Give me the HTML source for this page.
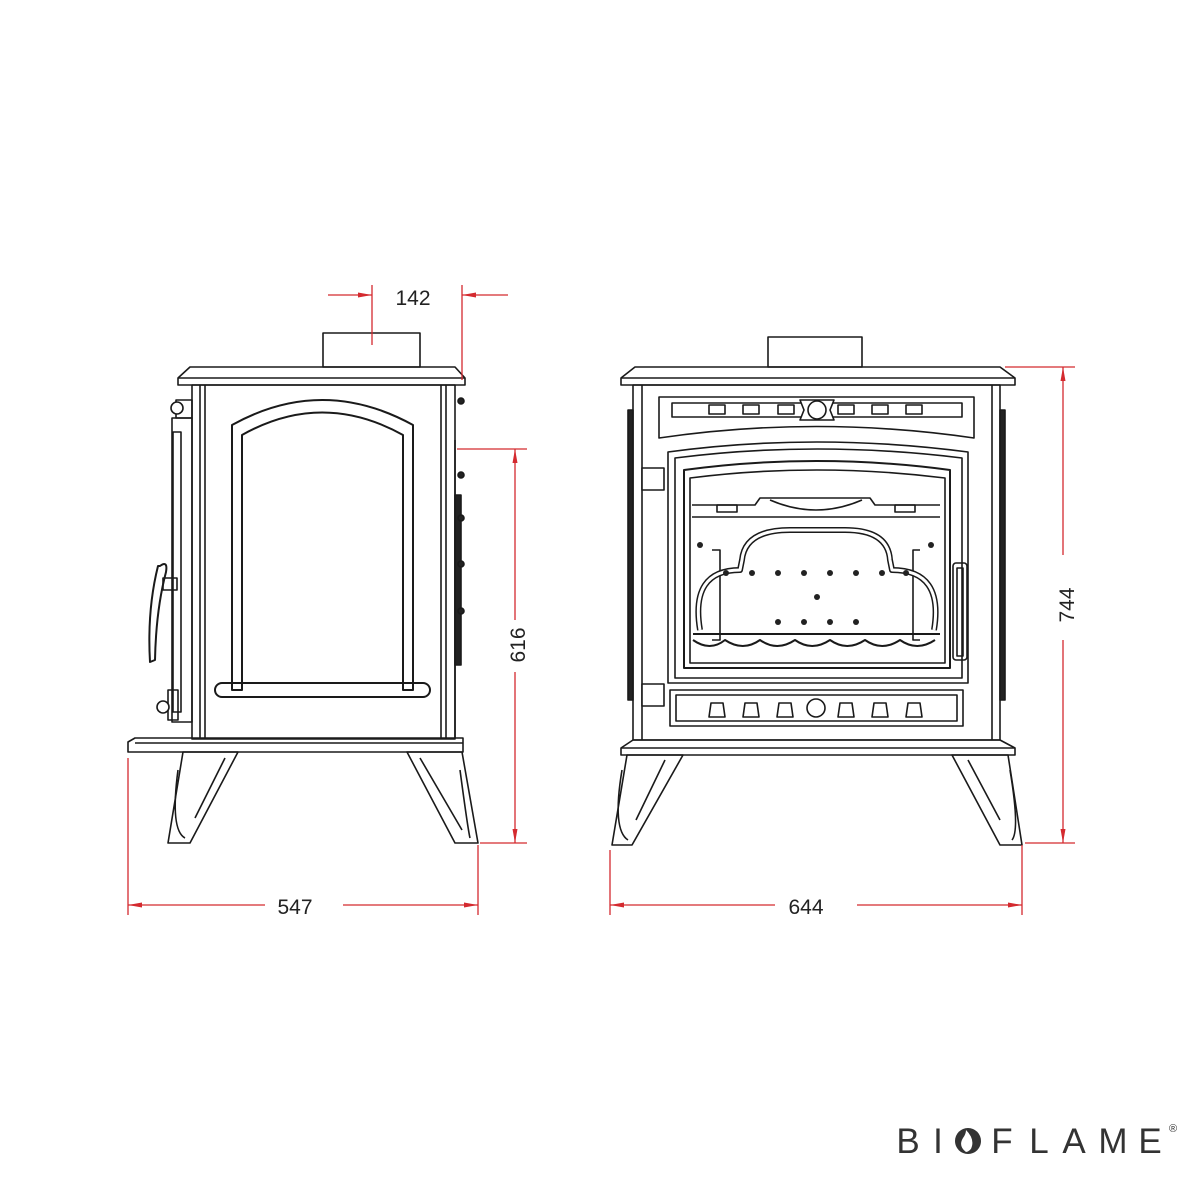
<!DOCTYPE html>
<html><head><meta charset="utf-8"><style>html,body{margin:0;padding:0;background:#fff}svg{display:block}</style></head><body>
<svg width="1200" height="1200" viewBox="0 0 1200 1200" xmlns="http://www.w3.org/2000/svg">
<defs>
<marker id="a" markerWidth="14" markerHeight="8" refX="14" refY="4" orient="auto" markerUnits="userSpaceOnUse"><path d="M0,1.5 L14,4 L0,6.5 Z" fill="#d42a2f"/></marker>
</defs>
<g fill="none" stroke="#1a1a1a" stroke-width="1.6" stroke-linejoin="round">
<!-- SIDE VIEW -->
<rect x="323" y="333" width="97" height="34"/>
<path d="M190,367 L455,367 L465,378 L465,385 L178,385 L178,378 Z"/>
<line x1="178" y1="378" x2="465" y2="378"/>
<rect x="192" y="385" width="263" height="354"/>
<line x1="200" y1="385" x2="200" y2="739"/><line x1="205" y1="385" x2="205" y2="739"/>
<line x1="441" y1="385" x2="441" y2="739"/><line x1="446" y1="385" x2="446" y2="739"/>
<path d="M232,425 Q322,375 413,425 L413,690 L403,690 L403,435 Q322,390 242,435 L242,690 L232,690 Z" stroke-width="2"/>
<rect x="215" y="683" width="215" height="14" rx="7" stroke-width="2"/>
<path d="M128,750 L128,742 L135,738 L463,738 L463,752 L128,752 Z"/>
<line x1="135" y1="743" x2="463" y2="743"/>
<path d="M183,752 L238,752 L190,843 L168,843 Z"/>
<path d="M178,770 Q170,830 185,838"/><path d="M225,758 L195,818"/>
<path d="M407,752 L462,752 L478,843 L455,843 Z"/>
<path d="M420,758 L462,830"/><path d="M460,770 Q468,830 470,838"/>
<!-- left door side -->
<rect x="172" y="418" width="20" height="304"/>
<rect x="173" y="432" width="8" height="280"/>
<rect x="176" y="400" width="16" height="18"/>
<circle cx="177" cy="408" r="6" fill="#fff"/>
<rect x="168" y="690" width="10" height="30"/>
<circle cx="163" cy="707" r="6" fill="#fff"/>
<path d="M160,566 Q168,560 166,572 Q156,610 155,660 L150,662 Q147,610 158,566 Z" stroke-width="2"/>
<rect x="163" y="578" width="14" height="12"/>
<!-- right bumps -->
<line x1="455" y1="440" x2="455" y2="738"/>
<rect x="455" y="495" width="6" height="170" fill="#222"/>
<circle cx="461" cy="401" r="3" fill="#222"/><circle cx="461" cy="475" r="3" fill="#222"/><circle cx="461" cy="518" r="3" fill="#222"/><circle cx="461" cy="564" r="3" fill="#222"/><circle cx="461" cy="611" r="3" fill="#222"/>
<!-- FRONT VIEW -->
<rect x="768" y="337" width="94" height="30"/>
<path d="M635,367 L1000,367 L1015,378 L1015,385 L621,385 L621,378 Z"/>
<line x1="621" y1="378" x2="1015" y2="378"/>
<rect x="633" y="385" width="367" height="355"/>
<line x1="642" y1="385" x2="642" y2="740"/><line x1="992" y1="385" x2="992" y2="740"/>
<rect x="628" y="410" width="5" height="290" fill="#222"/><rect x="1000" y="410" width="5" height="290" fill="#222"/>
<path d="M659,397 L974,397 L974,438 Q816,415 659,438 Z"/>
<rect x="672" y="403" width="290" height="14"/>
<g fill="#fff"><rect x="709" y="405" width="16" height="9"/><rect x="743" y="405" width="16" height="9"/><rect x="778" y="405" width="16" height="9"/><rect x="838" y="405" width="16" height="9"/><rect x="872" y="405" width="16" height="9"/><rect x="906" y="405" width="16" height="9"/>
<path d="M800,400 L834,400 L830,410 L834,420 L800,420 L804,410 Z"/><circle cx="817" cy="410" r="9"/></g>
<path d="M668,452 Q816,432 968,452 L968,683 L668,683 Z"/>
<path d="M675,458 Q816,440 962,458 L962,678 L675,678 Z"/>
<path d="M684,470 Q816,452 950,470 L950,668 L684,668 Z" stroke-width="2"/>
<path d="M690,478 Q816,462 945,478 L945,663 L690,663 Z"/>
<path d="M692,505 L755,505 L760,498 L870,498 L875,505 L940,505 M692,517 L940,517"/>
<path d="M770,500 Q816,520 862,500"/>
<rect x="717" y="505" width="20" height="7"/><rect x="895" y="505" width="20" height="7"/>
<path d="M712,550 L720,550 L720,640 L712,640 M920,550 L913,550 L913,640 L920,640"/>
<path d="M700,630 Q690,570 740,570 L742,560 Q745,530 790,530 L845,530 Q888,530 890,560 L892,570 Q944,570 934,630" stroke-width="6" stroke="#1a1a1a"/>
<path d="M700,630 Q690,570 740,570 L742,560 Q745,530 790,530 L845,530 Q888,530 890,560 L892,570 Q944,570 934,630" stroke-width="3" stroke="#fff"/>
<line x1="693" y1="634" x2="940" y2="634" stroke-width="2"/>
<path d="M693,640 Q710,652 725,640 Q743,652 760,640 Q777,652 795,640 Q812,652 830,640 Q847,652 865,640 Q882,652 900,640 Q917,652 935,640" stroke-width="2"/>
<g fill="#222" stroke="none"><circle cx="700" cy="545" r="3"/><circle cx="931" cy="545" r="3"/>
<circle cx="726" cy="573" r="3"/><circle cx="752" cy="573" r="3"/><circle cx="778" cy="573" r="3"/><circle cx="804" cy="573" r="3"/><circle cx="830" cy="573" r="3"/><circle cx="856" cy="573" r="3"/><circle cx="882" cy="573" r="3"/><circle cx="906" cy="573" r="3"/>
<circle cx="817" cy="597" r="3"/><circle cx="778" cy="622" r="3"/><circle cx="804" cy="622" r="3"/><circle cx="830" cy="622" r="3"/><circle cx="856" cy="622" r="3"/></g>
<rect x="953" y="563" width="14" height="97" rx="3"/><rect x="957" y="568" width="6" height="88"/>
<rect x="642" y="468" width="22" height="22" fill="#fff"/><rect x="642" y="684" width="22" height="22" fill="#fff"/>
<rect x="670" y="690" width="293" height="36"/>
<rect x="676" y="695" width="281" height="26"/>
<g fill="#fff"><path d="M711,703 L723,703 L725,717 L709,717 Z"/><path d="M745,703 L757,703 L759,717 L743,717 Z"/><path d="M779,703 L791,703 L793,717 L777,717 Z"/><path d="M840,703 L852,703 L854,717 L838,717 Z"/><path d="M874,703 L886,703 L888,717 L872,717 Z"/><path d="M908,703 L920,703 L922,717 L906,717 Z"/><circle cx="816" cy="708" r="9"/></g>
<path d="M633,740 L1000,740 L1015,748 L1015,755 L621,755 L621,748 Z"/>
<line x1="621" y1="748" x2="1015" y2="748"/>
<path d="M627,755 L683,755 L632,845 L612,845 Z"/><path d="M622,770 Q612,830 628,840"/><path d="M665,760 L636,820"/>
<path d="M952,755 L1008,755 L1022,845 L1000,845 Z"/><path d="M968,760 L1000,820"/><path d="M1010,770 Q1020,830 1012,840"/>
</g>
<!-- DIMENSIONS -->
<g stroke="#d42a2f" stroke-width="1.3" fill="none">
<line x1="372" y1="285" x2="372" y2="345"/><line x1="462" y1="285" x2="462" y2="380"/>
<line x1="328" y1="295" x2="372" y2="295" marker-end="url(#a)"/><line x1="508" y1="295" x2="462" y2="295" marker-end="url(#a)"/>
<line x1="457" y1="449" x2="527" y2="449"/><line x1="480" y1="843" x2="527" y2="843"/>
<line x1="515" y1="620" x2="515" y2="449" marker-end="url(#a)"/><line x1="515" y1="672" x2="515" y2="843" marker-end="url(#a)"/>
<line x1="128" y1="758" x2="128" y2="915"/><line x1="478" y1="845" x2="478" y2="915"/>
<line x1="265" y1="905" x2="128" y2="905" marker-end="url(#a)"/><line x1="343" y1="905" x2="478" y2="905" marker-end="url(#a)"/>
<line x1="610" y1="850" x2="610" y2="915"/><line x1="1022" y1="845" x2="1022" y2="915"/>
<line x1="775" y1="905" x2="610" y2="905" marker-end="url(#a)"/><line x1="857" y1="905" x2="1022" y2="905" marker-end="url(#a)"/>
<line x1="1005" y1="367" x2="1075" y2="367"/><line x1="1025" y1="843" x2="1075" y2="843"/>
<line x1="1063" y1="555" x2="1063" y2="367" marker-end="url(#a)"/><line x1="1063" y1="640" x2="1063" y2="843" marker-end="url(#a)"/>
</g>
<g font-family="Liberation Sans, sans-serif" font-size="21" fill="#222" text-anchor="middle">
<text x="413" y="305">142</text>
<text x="295" y="914">547</text>
<text x="806" y="914">644</text>
<text transform="translate(525,645) rotate(-90)">616</text>
<text transform="translate(1074,605) rotate(-90)">744</text>
</g>
<g font-family="Liberation Sans, sans-serif" font-size="35" fill="#333" text-anchor="middle" font-weight="normal">
<text x="908" y="1153">B</text><text x="938" y="1153">I</text>
<text x="1002" y="1153">F</text><text x="1039" y="1153">L</text><text x="1074" y="1153">A</text><text x="1113" y="1153">M</text><text x="1150" y="1153">E</text>
<text x="1173" y="1132" font-size="11">®</text>
</g>
<circle cx="968" cy="1141" r="13" fill="#333"/>
<path d="M966,1152 Q958,1146 963,1138 Q966,1134 966,1130 Q974,1138 972,1146 Q971,1151 966,1152 Z" fill="#fff"/>
</svg>
</body></html>
